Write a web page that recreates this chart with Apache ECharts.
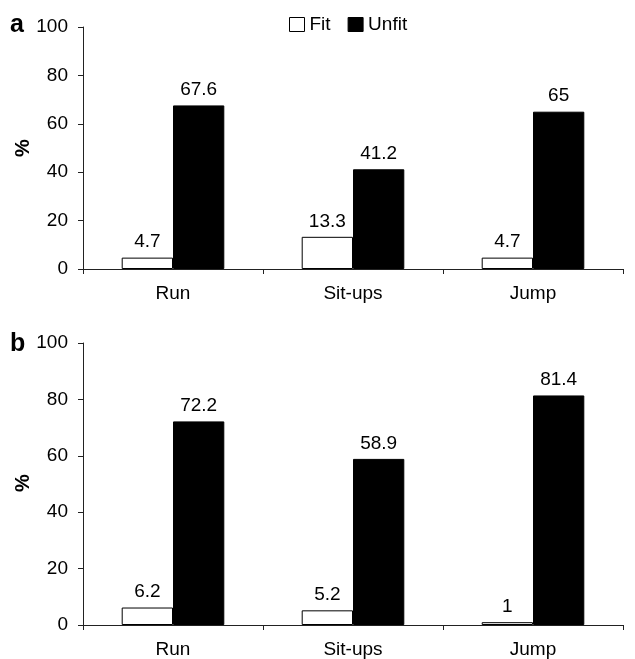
<!DOCTYPE html>
<html>
<head>
<meta charset="utf-8">
<script src="https://cdn.jsdelivr.net/npm/echarts@6/dist/echarts.min.js"></script>
<style>
  html, body { margin: 0; padding: 0; background: #fff; }
  #chart { width: 635px; height: 659px; }
</style>
</head>
<body>
<div id="chart"></div>
<script>
// values
const categories = ['Run', 'Sit-ups', 'Jump']
const fitA = [4.7, 13.3, 4.7]
const unfitA = [67.6, 41.2, 65]
const fitB = [6.2, 5.2, 1]
const unfitB = [72.2, 58.9, 81.4]
const yTicks = [0, 20, 40, 60, 80, 100]

const font = 'Liberation Sans, Arial, sans-serif'
const chart = echarts.init(document.getElementById('chart'))

const xAxisFor = function (gridIndex) {
  return {
    type: 'category',
    gridIndex: gridIndex,
    data: categories,
    axisLine: { lineStyle: { color: '#222', width: 1 } },
    axisTick: { show: true, length: 5, lineStyle: { color: '#222' } },
    axisLabel: { color: '#000', fontSize: 19, fontFamily: font, margin: 15 }
  }
}

const yAxisFor = function (gridIndex) {
  return {
    type: 'value',
    gridIndex: gridIndex,
    min: yTicks[0],
    max: yTicks[yTicks.length - 1],
    interval: 20,
    splitLine: { show: false },
    axisLine: { show: true, lineStyle: { color: '#222', width: 1 } },
    axisTick: { show: true, length: 5, lineStyle: { color: '#222' } },
    axisLabel: { color: '#000', fontSize: 19, fontFamily: font, margin: 15 }
  }
}

const labelStyle = {
  show: true,
  position: 'top',
  distance: 6,
  color: '#000',
  fontSize: 19,
  fontFamily: font
}

const barSeries = function (name, data, idx, fill) {
  return {
    name: name,
    type: 'bar',
    xAxisIndex: idx,
    yAxisIndex: idx,
    data: data,
    barGap: '0%',
    barCategoryGap: '43%',
    itemStyle: { color: fill, borderColor: '#000', borderWidth: 1 },
    label: labelStyle,
    emphasis: { disabled: true }
  }
}

const options = {
  animation: false,
  backgroundColor: '#fff',
  legend: {
    top: 15,
    left: 289,
    padding: 0,
    icon: 'rect',
    itemWidth: 15,
    itemHeight: 14,
    itemGap: 17,
    textStyle: { color: '#000', fontSize: 19, fontFamily: font },
    data: [
      { name: 'Fit', itemStyle: { color: '#fff', borderColor: '#000', borderWidth: 1 } },
      { name: 'Unfit', itemStyle: { color: '#000', borderColor: '#000', borderWidth: 1 } }
    ]
  },
  title: [
    { text: 'a', left: 10, top: 13, padding: 0, textStyle: { fontSize: 25, fontWeight: 'bold', fontFamily: font, color: '#000' } },
    { text: 'b', left: 10, top: 332, padding: 0, textStyle: { fontSize: 25, fontWeight: 'bold', fontFamily: font, color: '#000' } }
  ],
  graphic: [
    { type: 'text', x: 23, y: 148, rotation: Math.PI / 2,
      style: { text: '%', fontSize: 20, fontWeight: 'bold', fontFamily: font, fill: '#000', align: 'center', verticalAlign: 'middle' } },
    { type: 'text', x: 23, y: 483, rotation: Math.PI / 2,
      style: { text: '%', fontSize: 20, fontWeight: 'bold', fontFamily: font, fill: '#000', align: 'center', verticalAlign: 'middle' } }
  ],
  grid: [
    { left: 83, right: 12, top: 27, height: 242 },
    { left: 83, right: 12, top: 343, height: 282 }
  ],
  xAxis: [xAxisFor(0), xAxisFor(1)],
  yAxis: [yAxisFor(0), yAxisFor(1)],
  series: [
    barSeries('Fit', fitA, 0, '#fff'),
    barSeries('Unfit', unfitA, 0, '#000'),
    barSeries('Fit', fitB, 1, '#fff'),
    barSeries('Unfit', unfitB, 1, '#000')
  ]
}

chart.setOption(options)
</script>
</body>
</html>
